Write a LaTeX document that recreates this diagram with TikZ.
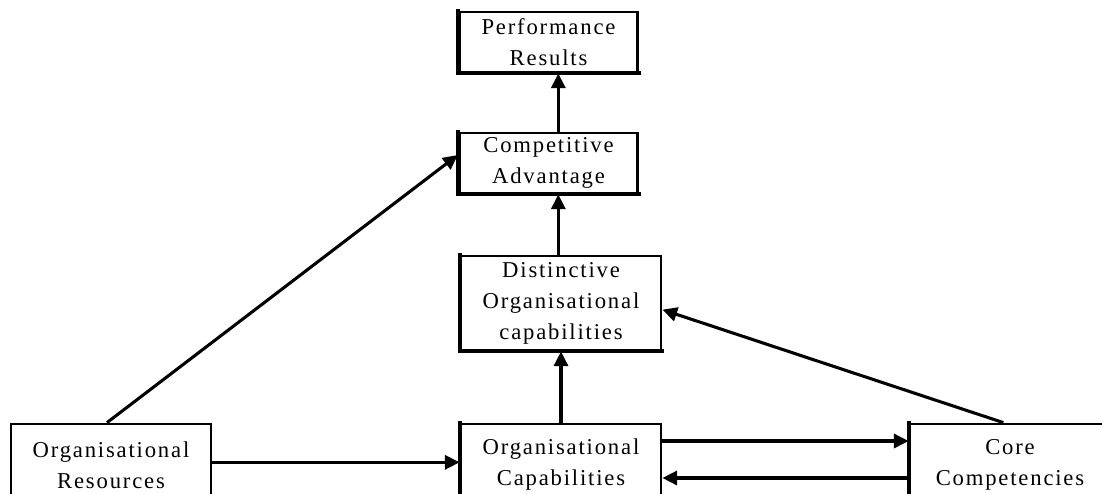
\documentclass[tikz,border=0pt]{standalone}
\usepackage{fontspec}
\setmainfont{Liberation Serif}[LetterSpace=8]
\usetikzlibrary{arrows.meta}
\tikzset{
  box/.style={draw, line width=2.1pt, inner sep=0pt, align=center,
    font=\fontsize{17pt}{23.25pt}\selectfont},
  heavy/.style={line width=3pt, line cap=rect},
  conn/.style={line width=2.3pt, -{Triangle[length=11pt,width=10.5pt]}}
}
\begin{document}
\begin{tikzpicture}[x=0.75pt,y=-0.75pt]
\useasboundingbox (0,0) rectangle (1102,493);
\clip (0,0) rectangle (1102,493);
\fill[white] (0,0) rectangle (1102,493);
\node[box, minimum width=134pt, minimum height=45pt] (perf) at (548.5,42) {Performance\\Results};
\node[box, minimum width=134pt, minimum height=45pt] (comp) at (548.5,163) {Competitive\\Advantage};
\node[box, minimum width=150pt, minimum height=70.5pt] (dist) at (561,303) {Distinctive\\Organisational\\capabilities};
\node[box, minimum width=150pt, minimum height=61.5pt] (orgcap) at (561,465) {Organisational\\Capabilities};
\node[box, minimum width=150pt, minimum height=61.5pt] (orgres) at (111,465) {Organisational\\Resources};
\node[box, minimum width=150pt, minimum height=61.5pt] (core) at (1010,465) {Core\\Competencies};
% heavier left and bottom edges of the upper boxes
\draw[heavy] (perf.north west) -- (perf.south west) -- (perf.south east);
\draw[heavy] (comp.north west) -- (comp.south west) -- (comp.south east);
\draw[heavy] (dist.north west) -- (dist.south west) -- (dist.south east);
\draw[heavy] (orgcap.north west) -- (orgcap.south west);
\draw[heavy] (core.north west) -- (core.south west);
% connectors
\draw[conn] ([xshift=-3pt]orgres.north) -- ([yshift=6pt]comp.west);
\draw[conn] ([yshift=2pt]orgres.east) -- ([yshift=2pt]orgcap.west);
\draw[conn] ([yshift=18pt]orgcap.east) -- ([yshift=18pt]core.west);
\draw[conn] ([yshift=-9.75pt]core.west) -- ([yshift=-9.75pt]orgcap.east);
\draw[conn] ([xshift=-5pt]core.north) -- ([yshift=-5pt]dist.east);
\draw[conn] (orgcap.north) -- (dist.south);
\draw[conn] ([xshift=-2pt]dist.north) -- ([xshift=-2pt]dist.north |- comp.south);
\draw[conn] ([xshift=-2pt]dist.north |- comp.north) -- ([xshift=-2pt]dist.north |- perf.south);
\end{tikzpicture}
\end{document}
